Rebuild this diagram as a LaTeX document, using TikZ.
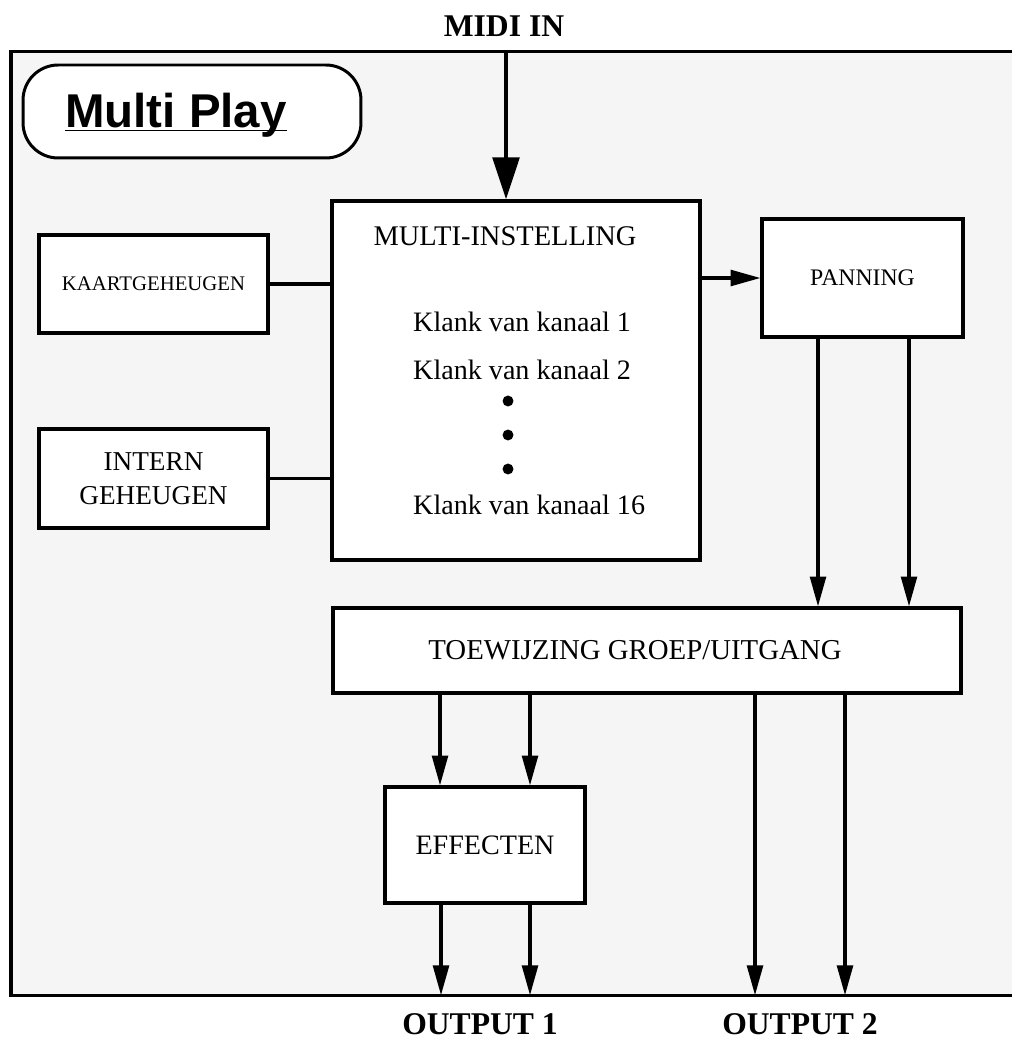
\documentclass[tikz,border=0pt]{standalone}
\usepackage{fontspec}
\setmainfont{Liberation Serif}
\newfontfamily\titelfont{Liberation Sans}
\usetikzlibrary{arrows.meta}

\tikzset{
  blok/.style={draw,line width=1.8pt,fill=white,inner sep=0pt},
  lijn/.style={line width=1.8pt},
  pijl/.style={line width=1.8pt,-{Triangle[length=17pt,width=9pt]}},
  stip/.style={circle,fill,inner sep=2.2pt},
  tekst/.style={font=\fontsize{16}{19}\selectfont},
  kop/.style={font=\bfseries\fontsize{18}{21}\selectfont},
}

\begin{document}
\begin{tikzpicture}[x=0.02cm,y=-0.02cm]
\useasboundingbox (0,0) rectangle (1012,1043);

% kader
\node (frame) at (511.5,523.5) [fill=black!4,minimum width=20.02cm,minimum height=18.86cm,inner sep=0pt] {};
\draw[line width=2pt] (frame.north east) -- (frame.north west) -- (frame.south west) -- (frame.south east);

\node (title) at (192,111.5) [draw,line width=1.7pt,fill=white,rounded corners=20pt,minimum width=6.76cm,minimum height=1.86cm] {};
\node (titel) at (59,128) [anchor=base west,font=\titelfont\bfseries\fontsize{27}{30}\selectfont] {\underline{\smash{Multi Play}}};

\node (midi) at (504,37) [anchor=base,kop] {MIDI IN};

% blokken
\node (multi) at (516,380.5) [blok,minimum width=7.36cm,minimum height=7.18cm] {};
\node (multikop) at (505,246) [anchor=base,font=\fontsize{16.2}{19}\selectfont] {MULTI-INSTELLING};
\node (k1) at (407,332) [anchor=base west,tekst] {Klank van kanaal 1};
\node (k2) at (407,379) [anchor=base west,tekst] {Klank van kanaal 2};
\node (d1) at (508,401) [stip] {};
\node (d2) at (508,435) [stip] {};
\node (d3) at (508,469) [stip] {};
\node (k16) at (407,514) [anchor=base west,tekst] {Klank van kanaal 16};

\node (kaart) at (153.5,284) [blok,minimum width=4.58cm,minimum height=1.96cm,font=\fontsize{11.8}{14}\selectfont] {KAARTGEHEUGEN};
\node (intern) at (153.5,478.5) [blok,minimum width=4.58cm,minimum height=1.98cm,align=center,font=\fontsize{15.5}{19.3}\selectfont] {INTERN\\GEHEUGEN};
\node (pan) at (862.5,278) [blok,minimum width=4.02cm,minimum height=2.36cm,font=\fontsize{13.5}{16}\selectfont] {PANNING};
\node (toew) at (647,650.5) [blok,minimum width=12.56cm,minimum height=1.7cm] {};
\node (toewtekst) at (635,650) [font=\fontsize{16.4}{19}\selectfont] {TOEWIJZING GROEP/UITGANG};
\node (eff) at (485,845) [blok,minimum width=4cm,minimum height=2.32cm,tekst] {EFFECTEN};

\node (out1) at (480,1034) [anchor=base,inner sep=1pt,kop] {OUTPUT 1};
\node (out2) at (800,1034) [anchor=base,inner sep=1pt,kop] {OUTPUT 2};

% verbindingen
\draw[line width=2.8pt,-{Triangle[length=24pt,width=15pt]}] (506,0 |- frame.north) -- (506,0 |- multi.north);
\draw[lijn] (kaart.east) -- (kaart.east -| multi.west);
\draw[lijn] (intern.east) -- (intern.east -| multi.west);
\draw[pijl] (pan.west -| multi.east) -- (pan.west);
\foreach \x in {818,909} \draw[pijl] (\x,0 |- pan.south) -- (\x,0 |- toew.north);
\foreach \x in {440,530} \draw[pijl] (\x,0 |- toew.south) -- (\x,0 |- eff.north);
\foreach \x in {441,530} \draw[pijl] (\x,0 |- eff.south) -- (\x,0 |- frame.south);
\foreach \x in {755,845} \draw[pijl] (\x,0 |- toew.south) -- (\x,0 |- frame.south);

\end{tikzpicture}
\end{document}
